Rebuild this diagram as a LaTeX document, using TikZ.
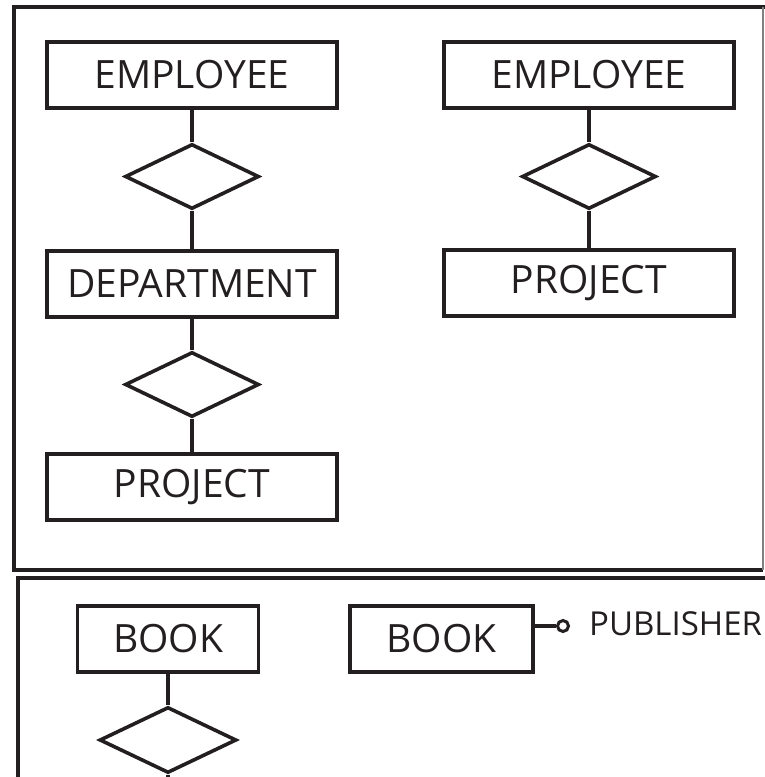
\documentclass[tikz,border=0pt]{standalone}
\usepackage{fontspec}
\setmainfont{Open Sans}
\usetikzlibrary{shapes.geometric}
\definecolor{ink}{HTML}{231F20}

\begin{document}
\begin{tikzpicture}[x=1pt,y=-1pt,
  entity/.style={draw=ink,text=ink,line width=3.6pt,rectangle,inner sep=0pt,
    minimum width=290pt,minimum height=66pt,font=\fontsize{39}{39}\selectfont},
  rel/.style={draw=ink,line width=3.6pt,diamond,inner sep=0pt,
    minimum width=134pt,minimum height=65pt},
  link/.style={draw=ink,line width=3.4pt},
  panel/.style={draw=ink,line width=3.4pt}]
\useasboundingbox (0,0) rectangle (765,777);

% panels
\draw[panel] (765,7) -- (14,7) -- (14,570) -- (763,570);
\draw[draw=gray,line width=1.2pt] (763,7) -- (763,570);
\draw[panel] (765,578) -- (18,578) -- (18,777);

% employee - department - project
\node[entity](e1) at (192,75) {EMPLOYEE};
\node[rel](r1) at (192,176.5) {};
\node[entity](d1) at (192,284) {DEPARTMENT};
\node[rel](r2) at (192,384.5) {};
\node[entity](p1) at (192,487) {PROJECT};

% employee - project
\node[entity](e2) at (589,75) {EMPLOYEE};
\node[rel](r3) at (589,176.5) {};
\node[entity](p2) at (589,283) {PROJECT};

% books
\node[entity,minimum width=181pt](b1) at (168,639) {BOOK};
\node[rel,minimum width=137pt,minimum height=66pt](r4) at (168,740) {};
\coordinate (cut) at (168,777);
\node[entity,minimum width=183pt](b2) at (441.5,639) {BOOK};
\node[circle,draw=ink,line width=3pt,inner sep=0pt,minimum size=11pt](o1) at (563,626) {};
\node[anchor=base west,text=ink,inner sep=0pt,font=\fontsize{33}{33}\selectfont](pub) at (589,635) {PUBLISHER};

\draw[link] (e1)--(r1);
\draw[link] (r1)--(d1);
\draw[link] (d1)--(r2);
\draw[link] (r2)--(p1);
\draw[link] (e2)--(r3);
\draw[link] (r3)--(p2);
\draw[link] (b1)--(r4);
\draw[link] (r4)--(cut);
\draw[link] (b2.east |- o1)--(o1);

\end{tikzpicture}
\end{document}
